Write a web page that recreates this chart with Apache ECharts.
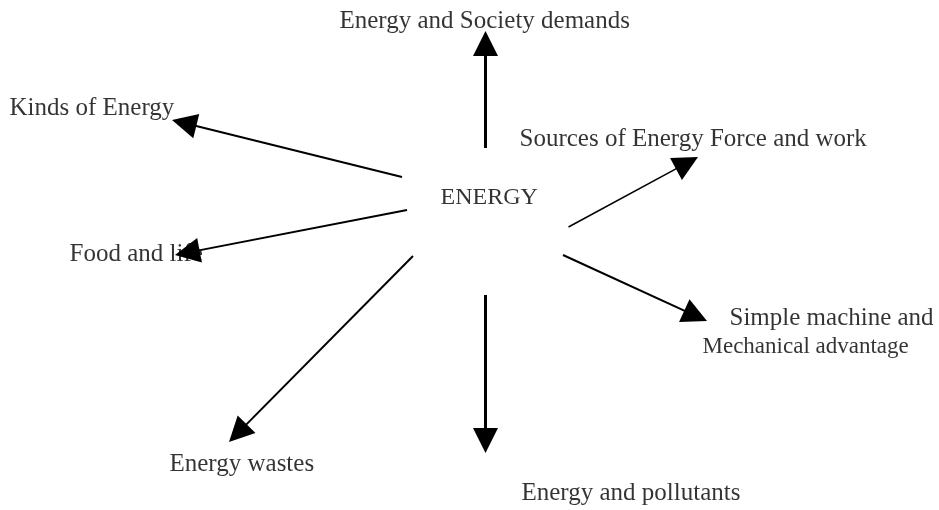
<!DOCTYPE html>
<html>
<head>
<meta charset="utf-8">
<script src="https://cdn.jsdelivr.net/npm/echarts@6/dist/echarts.min.js"></script>
<style>html,body{margin:0;padding:0;background:#fff;}#c{width:939px;height:510px;}</style>
</head>
<body>
<div id="c"></div>
<script>
// Concept-map nodes (text, left x, centre y in diagram units, font size)
const nodeText = ['Energy and Society demands', 'Kinds of Energy', 'ENERGY', 'Sources of Energy Force and work', 'Food and life', 'Simple machine and', 'Mechanical advantage', 'Energy wastes', 'Energy and pollutants'];
const nodeX = [340, 10, 441, 520, 70, 730, 703, 170, 522];
const nodeY = [22, 109, 198.5, 139.5, 255, 318.5, 347, 464.5, 494];
const nodeFont = [25, 25, 24, 25, 25, 25, 23, 25, 25];

// Arrows: start point and arrow-tip point, stroke width
const arrowFromX = [485.5, 402, 407, 413, 485.5, 563, 568.5];
const arrowFromY = [148, 177, 210, 256, 295, 255, 227];
const arrowToX = [485.5, 172, 175, 229, 485.5, 707, 698];
const arrowToY = [31, 120, 255, 442, 453, 321, 157];
const arrowWidth = [3, 2, 2, 2, 3, 2, 1.5];

const HEAD = 25;
const arrowData = arrowFromX.map((x, i) => {
  const y = arrowFromY[i], tx = arrowToX[i], ty = arrowToY[i];
  const dx = tx - x, dy = ty - y, len = Math.sqrt(dx * dx + dy * dy);
  // the library centres the end symbol on the end point: pull it back so the tip lands on the target
  const ex = tx - dx / len * HEAD / 2, ey = ty - dy / len * HEAD / 2;
  return {
    coords: [[x, y], [ex, ey]],
    lineStyle: { width: arrowWidth[i] }
  };
});
const textData = nodeText.map((t, i) => ({
  value: [nodeX[i], nodeY[i]],
  name: t,
  label: { fontSize: nodeFont[i] }
}));

const chart = echarts.init(document.getElementById('c'));
chart.setOption({
  animation: false,
  backgroundColor: '#ffffff',
  grid: { left: 0, right: 0, top: 0, bottom: 0 },
  xAxis: { type: 'value', min: 0, max: 939, show: false },
  yAxis: { type: 'value', min: 0, max: 510, inverse: true, show: false },
  series: [
    {
      type: 'scatter',
      symbolSize: 1,
      itemStyle: { color: 'rgba(0,0,0,0)' },
      data: textData,
      z: 1,
      silent: true,
      label: {
        show: true,
        position: [0, 0],
        align: 'left',
        verticalAlign: 'middle',
        color: '#000',
        textBorderWidth: 0,
        fontFamily: '"Liberation Serif", "Times New Roman", serif',
        formatter: p => p.name
      }
    },
    {
      type: 'lines',
      coordinateSystem: 'cartesian2d',
      z: 5,
      silent: true,
      symbol: ['none', 'triangle'],
      symbolSize: HEAD,
      lineStyle: { color: '#000', opacity: 1, curveness: 0 },
      itemStyle: { color: '#000' },
      data: arrowData
    }
  ]
});
</script>
</body>
</html>
